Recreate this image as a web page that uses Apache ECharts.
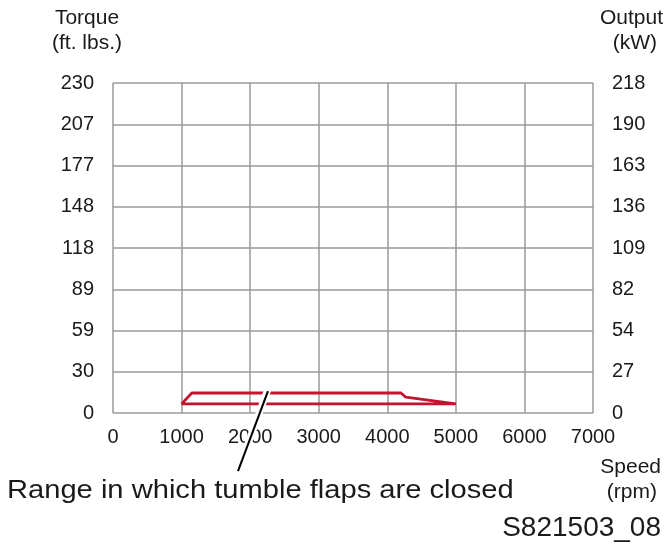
<!DOCTYPE html>
<html><head><meta charset="utf-8">
<script src="https://cdn.jsdelivr.net/npm/echarts@6/dist/echarts.min.js"></script>
<style>html,body{margin:0;padding:0;background:#fff}#c{width:667px;height:548px}</style>
</head><body><div id="c"></div>
<script>
// Tick labels
const torqueLabels = ['0','30','59','89','118','148','177','207','230'];
const outputLabels = ['0','27','54','82','109','136','163','190','218'];
const speedLabels = ['0','1000','2000','3000','4000','5000','6000','7000'];
// Range outline (rpm, ft. lbs.)
const rangeSpeed  = [1000, 1150, 4200, 4270, 5000, 1000];
const rangeTorque = [6.5, 14.3, 14.3, 11.3, 6.5, 6.5];
// Annotation leader line endpoints (rpm, ft. lbs.)
const leaderSpeed = [2260, 1823];
const leaderTorque = [15.7, -41.5];

const FONT = 'Liberation Sans';
const TXT = '#1a1a1a';
const GRID = '#9a9a9a';
const chart = echarts.init(document.getElementById('c'), null, {renderer:'canvas'});
const tStep = 29.5, oStep = 27.25;
chart.setOption({
  animation:false,
  backgroundColor:'#fff',
  grid:{left:113, right:74, top:83, bottom:135, containLabel:false},
  xAxis:{type:'value', min:0, max:7000, interval:1000,
    axisLine:{show:false}, axisTick:{show:false},
    axisLabel:{color:TXT, fontFamily:FONT, fontSize:20, margin:14,
      formatter:v=>speedLabels[Math.round(v/1000)]},
    splitLine:{show:true, lineStyle:{color:GRID, width:1.5}}},
  yAxis:[
    {type:'value', position:'left', min:0, max:tStep*8, interval:tStep,
     axisLine:{show:false}, axisTick:{show:false},
     axisLabel:{color:TXT, fontFamily:FONT, fontSize:20, margin:19, align:'right',
       formatter:v=>torqueLabels[Math.round(v/tStep)]},
     splitLine:{show:true, lineStyle:{color:GRID, width:1.5}}},
    {type:'value', position:'right', min:0, max:oStep*8, interval:oStep,
     axisLine:{show:false}, axisTick:{show:false},
     axisLabel:{color:TXT, fontFamily:FONT, fontSize:20, margin:19, align:'left',
       formatter:v=>outputLabels[Math.round(v/oStep)]},
     splitLine:{show:false}}
  ],
  series:[{type:'line', yAxisIndex:0, showSymbol:false, symbol:'none',
    data:rangeSpeed.map((s,i)=>[s, rangeTorque[i]]),
    lineStyle:{color:'#c4122f', width:2.8}, z:3}]
});

function t(text, x, y, size, align, extra){
  return Object.assign({type:'text', x:x, y:y, z:60,
    style:{text:text, x:0, y:0, align:align, verticalAlign:'middle', font:size+'px "'+FONT+'"', fill:TXT}}, extra||{});
}
function place(){
  const p0 = chart.convertToPixel({xAxisIndex:0, yAxisIndex:0}, [leaderSpeed[0], leaderTorque[0]]);
  const p1 = chart.convertToPixel({xAxisIndex:0, yAxisIndex:0}, [leaderSpeed[1], leaderTorque[1]]);
  chart.setOption({graphic:[
    {type:'line', shape:{x1:p0[0],y1:p0[1]-2,x2:p1[0],y2:p1[1]}, style:{stroke:'#fff', lineWidth:7}, z:50},
    {type:'line', shape:{x1:p0[0],y1:p0[1],x2:p1[0],y2:p1[1]}, style:{stroke:'#000', lineWidth:2}, z:51},
    t('Torque', 87, 18, 21, 'center'),
    t('(ft. lbs.)', 87, 43, 21, 'center'),
    t('Output', 663, 18, 21, 'right'),
    t('(kW)', 657, 43, 21, 'right'),
    t('Speed', 661, 467, 21, 'right'),
    t('(rpm)', 657, 492, 21, 'right'),
    t('Range in which tumble flaps are closed', 7, 491, 26, 'left', {scaleX:1.12}),
    t('S821503_08', 661, 528, 28, 'right')
  ]});
}
place();
</script></body></html>
